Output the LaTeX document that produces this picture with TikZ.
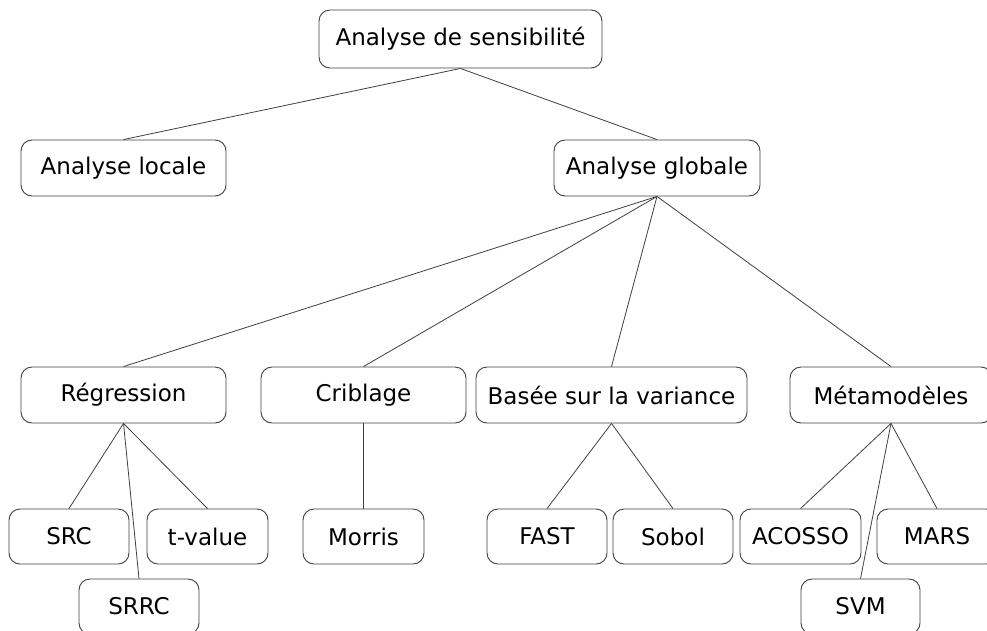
\documentclass[tikz,border=0pt]{standalone}
\usepackage{fontspec}
\setmainfont{DejaVu Sans}
\begin{document}
\begin{tikzpicture}[x=1pt,y=-1pt,
  box/.style={draw=black!75, line width=0.9pt, rounded corners=11pt, fill=white,
    inner sep=0pt, font=\fontsize{23}{27}\selectfont, text=black},
  link/.style={draw=black!75, line width=0.8pt}]
\useasboundingbox[fill=white] (0,0) rectangle (987,630);
\clip (0,0) rectangle (987,630);
% nodes
\node[box, minimum width=283pt, minimum height=58pt] (root) at (460.5,39) {Analyse de sensibilité};
\node[box, minimum width=205pt, minimum height=56pt] (loc) at (123.5,168) {Analyse locale};
\node[box, minimum width=206pt, minimum height=56pt] (glob) at (657,168) {Analyse globale};
\node[box, minimum width=205pt, minimum height=56pt] (reg) at (123.5,395) {Régression};
\node[box, minimum width=205pt, minimum height=56pt] (crib) at (363.5,395) {Criblage};
\node[box, minimum width=271pt, minimum height=56pt] (var) at (611.5,395) {Basée sur la variance};
\node[box, minimum width=202pt, minimum height=56pt] (meta) at (891,395) {Métamodèles};
\node[box, minimum width=120pt, minimum height=55pt] (src) at (69,536.5) {SRC};
\node[box, minimum width=121pt, minimum height=55pt] (tval) at (207.5,536.5) {t-value};
\node[box, minimum width=120pt, minimum height=55pt] (srrc) at (139,606.5) {SRRC};
\node[box, minimum width=121pt, minimum height=55pt] (morris) at (363.5,536.5) {Morris};
\node[box, minimum width=120pt, minimum height=55pt] (fast) at (547,536.5) {FAST};
\node[box, minimum width=120pt, minimum height=55pt] (sobol) at (673,536.5) {Sobol};
\node[box, minimum width=121pt, minimum height=55pt] (acosso) at (800.5,536.5) {ACOSSO};
\node[box, minimum width=120pt, minimum height=55pt] (mars) at (937,536.5) {MARS};
\node[box, minimum width=119pt, minimum height=55pt] (svm) at (860.5,606.5) {SVM};
% connectors
\begin{scope}[on background layer/.style={}]
\end{scope}
\path[link] (root.south) -- (loc.north);
\path[link] (root.south) -- (glob.north);
\path[link] (glob.south) -- (reg.north);
\path[link] (glob.south) -- (crib.north);
\path[link] (glob.south) -- (var.north);
\path[link] (glob.south) -- (meta.north);
\path[link] (reg.south) -- (src.north);
\path[link] (reg.south) -- (tval.north);
\path[link] (reg.south) -- (srrc.north);
\path[link] (crib.south) -- (morris.north);
\path[link] (var.south) -- (fast.north);
\path[link] (var.south) -- (sobol.north);
\path[link] (meta.south) -- (acosso.north);
\path[link] (meta.south) -- (mars.north);
\path[link] (meta.south) -- (svm.north);
\end{tikzpicture}
\end{document}
